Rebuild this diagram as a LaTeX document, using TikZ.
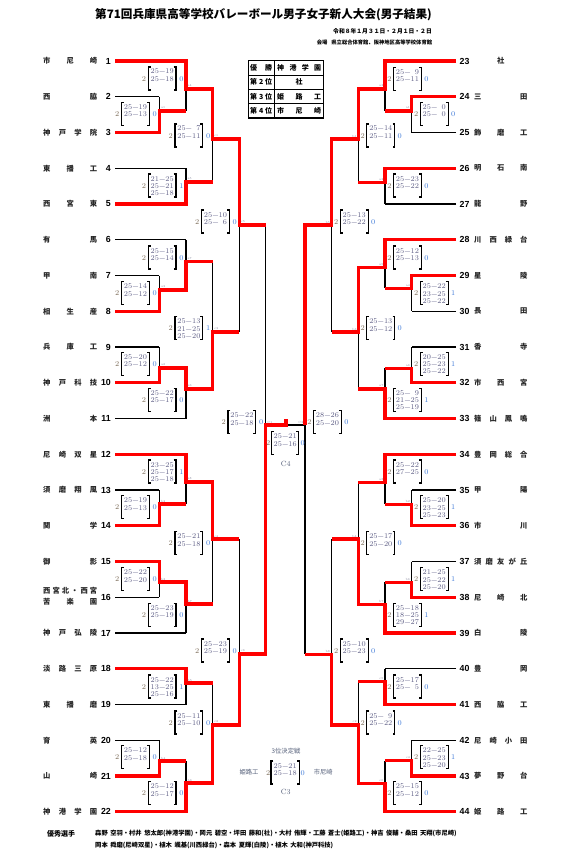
\documentclass[tikz,border=0pt]{standalone}
\usepackage{fontspec}
\newfontfamily\jp{Noto Sans CJK JP}
\newfontfamily\arl{Liberation Sans}
\definecolor{scc}{HTML}{5C5C84}
\definecolor{wnc}{HTML}{7A6A55}
\definecolor{lsc}{HTML}{3C78D8}
\definecolor{txg}{HTML}{55607A}
\definecolor{tiny}{HTML}{8A8AA0}
\newcommand\scoreL[5]{%
  \draw[brk] ({#1-35.4},#2) -- ({#1-37.7},#2) -- ({#1-37.7},{#2+23}) -- ({#1-35.4},{#2+23});
  \draw[brk] ({#1-12.3},#2) -- ({#1-10},#2) -- ({#1-10},{#2+23}) -- ({#1-12.3},{#2+23});
  \node[wcnt] (#5w) at ({#1-42},{#2+11.8}) {2};
  \node[lcnt] (#5l) at ({#1-4.5},{#2+11.8}) {#4};
  \foreach \r [count=\k from 0] in {#3} {\node[sc] (#5r\k) at ({#1-23.8},{#2+7+\k*7.3}) {\r};}
}
\newcommand\scoreR[5]{%
  \draw[brk] ({#1+10.8},#2) -- ({#1+8.5},#2) -- ({#1+8.5},{#2+23}) -- ({#1+10.8},{#2+23});
  \draw[brk] ({#1+34.2},#2) -- ({#1+36.5},#2) -- ({#1+36.5},{#2+23}) -- ({#1+34.2},{#2+23});
  \node[wcnt] (#5w) at ({#1+4.5},{#2+11.8}) {2};
  \node[lcnt] (#5l) at ({#1+41.5},{#2+11.8}) {#4};
  \foreach \r [count=\k from 0] in {#3} {\node[sc] (#5r\k) at ({#1+22.5},{#2+7+\k*7.3}) {\r};}
}
\begin{document}
\begin{tikzpicture}[x=1pt,y=-1pt,
  blk/.style={line width=1.1pt,black},
  win/.style={line width=3.3pt,red},
  brk/.style={line width=1.1pt,black},
  sc/.style={anchor=base,inner sep=0,font=\fontsize{7.3}{7.3}\selectfont,text=scc},
  wcnt/.style={inner sep=0,font=\fontsize{7.3}{7.3}\selectfont,text=wnc},
  lcnt/.style={inner sep=0,font=\fontsize{7.3}{7.3}\selectfont,text=lsc},
  tname/.style={inner sep=0,font=\jp\bfseries\fontsize{7.3}{8}\selectfont,text=black!85},
  tnum/.style={inner sep=0,font=\arl\bfseries\fontsize{8.8}{9}\selectfont},
  tab/.style={inner sep=0,anchor=west,font=\jp\bfseries\fontsize{7}{7}\selectfont},
  jpl/.style={inner sep=0,font=\jp\fontsize{6.3}{7}\selectfont,text=txg},
  clab/.style={inner sep=0,font=\fontsize{7.5}{8}\selectfont,text=txg},
  mlabL/.style={inner sep=0,anchor=west,font=\fontsize{3}{3}\selectfont,text=tiny},
  mlabR/.style={inner sep=0,anchor=east,font=\fontsize{3}{3}\selectfont,text=tiny}]
\useasboundingbox (0,0) rectangle (566,856);
\fill[white] (0,0) rectangle (566,856);

% header
\node[font=\jp\bfseries\fontsize{11.6}{12}\selectfont] (title) at (263.5,15) {第71回兵庫県高等学校バレーボール男子女子新人大会(男子結果)};
\node[anchor=east,inner sep=0,font=\jp\bfseries\fontsize{5.8}{6}\selectfont] (date) at (432,31.7) {令和８年１月３１日・２月１日・２日};
\node[anchor=east,inner sep=0,font=\jp\bfseries\fontsize{5.3}{6}\selectfont] (venue) at (432.3,42.3) {会場\hspace{4pt}県立総合体育館、阪神地区高等学校体育館};

% result table
\draw[line width=1.6pt] (248.3,60.7) rectangle (323.3,118.3);
\draw[line width=0.8pt] (274.5,60.7) -- (274.5,118.3);
\foreach \yy in {75.1,89.5,103.9} \draw[line width=0.8pt] (248.3,\yy) -- (323.3,\yy);
\node[tab] (ta1) at (250,67.9) {\hbox to 22pt{優\hfil 勝}};
\node[tab] (ta2) at (250,82.3) {\hbox to 22pt{第\hfil 2\hfil 位}};
\node[tab] (ta3) at (250,96.7) {\hbox to 22pt{第\hfil 3\hfil 位}};
\node[tab] (ta4) at (250,111.1) {\hbox to 22pt{第\hfil 4\hfil 位}};
\node[tab] (tb1) at (277,67.9) {\hbox to 44pt{神\hfil 港\hfil 学\hfil 園}};
\node[tab] (tb2) at (277,82.3) {\hbox to 44pt{\hfil 社\hfil}};
\node[tab] (tb3) at (277,96.7) {\hbox to 44pt{姫\hfil 路\hfil 工}};
\node[tab] (tb4) at (277,111.1) {\hbox to 44pt{市\hfil 尼\hfil 崎}};

% team names and numbers
\foreach \n/\nm in {1/{市\hfil 尼\hfil 崎},2/{西\hfil 脇},3/{神\hfil 戸\hfil 学\hfil 院},4/{東\hfil 播\hfil 工},5/{西\hfil 宮\hfil 東},6/{有\hfil 馬},7/{甲\hfil 南},8/{相\hfil 生\hfil 産},9/{兵\hfil 庫\hfil 工},10/{神\hfil 戸\hfil 科\hfil 技},11/{洲\hfil 本},12/{尼\hfil 崎\hfil 双\hfil 星},13/{須\hfil 磨\hfil 翔\hfil 風},14/{関\hfil 学},15/{御\hfil 影},17/{神\hfil 戸\hfil 弘\hfil 陵},18/{淡\hfil 路\hfil 三\hfil 原},19/{東\hfil 播\hfil 磨},20/{育\hfil 英},21/{山\hfil 崎},22/{神\hfil 港\hfil 学\hfil 園}} {
  \pgfmathsetmacro\yy{61+(\n-1)*35.75}
  \node[tname,anchor=west] (tn\n) at (43,\yy) {\hbox to 54pt{\nm}};
}
\node[tname,anchor=west] (tn16a) at (43,591) {\hbox to 54pt{西\hfil 宮\hfil 北\hfil ・\hfil 西\hfil 宮}};
\node[tname,anchor=west] (tn16b) at (43,602) {\hbox to 54pt{苦\hfil 楽\hfil 園}};
\foreach \n/\nm in {23/{\hfil 社\hfil},24/{三\hfil 田},25/{飾\hfil 磨\hfil 工},26/{明\hfil 石\hfil 南},27/{龍\hfil 野},28/{川\hfil 西\hfil 緑\hfil 台},29/{星\hfil 陵},30/{長\hfil 田},31/{香\hfil 寺},32/{市\hfil 西\hfil 宮},33/{篠\hfil 山\hfil 鳳\hfil 鳴},34/{豊\hfil 岡\hfil 総\hfil 合},35/{甲\hfil 陽},36/{市\hfil 川},37/{須\hfil 磨\hfil 友\hfil が\hfil 丘},38/{尼\hfil 崎\hfil 北},39/{白\hfil 陵},40/{豊\hfil 岡},41/{西\hfil 脇\hfil 工},42/{尼\hfil 崎\hfil 小\hfil 田},43/{夢\hfil 野\hfil 台},44/{姫\hfil 路\hfil 工}} {
  \pgfmathsetmacro\yy{61+(\n-23)*35.75}
  \node[tname,anchor=west] (tn\n) at (474,\yy) {\hbox to 53.3pt{\nm}};
}
\foreach \n in {1,...,22} {
  \pgfmathsetmacro\yy{61+(\n-1)*35.75}
  \node[tnum,anchor=east] (tk\n) at (111,\yy) {\n};
  \coordinate (L\n) at (115,\yy);
}
\foreach \n in {23,...,44} {
  \pgfmathsetmacro\yy{61+(\n-23)*35.75}
  \node[tnum,anchor=west] (tk\n) at (459.5,\yy) {\n};
  \coordinate (R\n) at (456,\yy);
}

% ---------- black lines ----------
\draw[blk] (159.3,96.75)--(159.3,132.5) (159.3,275.5)--(159.3,311.25) (159.3,347)--(159.3,382.75)
  (159.3,490)--(159.3,525.75) (159.3,561.5)--(159.3,597.25) (159.3,740.25)--(159.3,776);
\draw[blk] (186,61)--(186,111) (186,168.25)--(186,204) (186,239.75)--(186,290) (186,368)--(186,418.5)
  (186,454.25)--(186,504) (186,582)--(186,633) (186,668.75)--(186,704.5) (186,761)--(186,811.75);
\draw[blk] (212.7,89)--(212.7,182) (212.7,261.7)--(212.7,389) (212.7,482)--(212.7,604) (212.7,683)--(212.7,783);
\draw[blk] (239.3,139)--(239.3,332) (239.3,539)--(239.3,725);
\draw[blk] (265.7,225)--(265.7,654);
\draw[blk] (265.7,425)--(305,425);
\draw[blk] (411.7,96.75)--(411.7,132.5) (411.7,275.5)--(411.7,311.25) (411.7,347)--(411.7,382.75)
  (411.7,490)--(411.7,525.75) (411.7,561.5)--(411.7,597.25) (411.7,740.25)--(411.7,776);
\draw[blk] (385,61)--(385,111) (385,168.25)--(385,204) (385,239.75)--(385,288.3) (385,368.3)--(385,418.5)
  (385,454.25)--(385,504.3) (385,582.3)--(385,633) (385,668.75)--(385,704.5) (385,760.7)--(385,811.75);
\draw[blk] (358.3,89)--(358.3,182.3) (358.3,267.3)--(358.3,389) (358.3,482.3)--(358.3,604.3) (358.3,681.7)--(358.3,783.3);
\draw[blk] (331.7,139)--(331.7,332) (331.7,539)--(331.7,725);
\draw[blk] (305,225)--(305,654.3);
% losers' lines
\draw[blk] (L2)--(159.3,96.75) (L4)--(186,168.25) (L6)--(186,239.75) (L7)--(159.3,275.5) (L9)--(159.3,347)
  (L11)--(186,418.5) (L13)--(159.3,490) (L16)--(159.3,597.25) (L17)--(186,633) (L19)--(186,704.5) (L20)--(159.3,740.25);
\draw[blk] (R25)--(411.7,132.5) (R27)--(385,204) (R30)--(411.7,311.25) (R31)--(411.7,347) (R35)--(411.7,490)
  (R37)--(411.7,561.5) (R40)--(385,668.75) (R42)--(411.7,740.25);

% ---------- red winner paths ----------
\draw[win] (L1)--(186,61)--(186,89)--(212.7,89)--(212.7,139)--(239.3,139)--(239.3,225)--(265.7,225);
\draw[win] (L3)--(159.3,132.5)--(159.3,111)--(186,111);
\draw[win] (L5)--(186,204)--(186,182)--(212.7,182);
\draw[win] (L8)--(159.3,311.25)--(159.3,290)--(186,290)--(186,261.7)--(212.7,261.7);
\draw[win] (L10)--(159.3,382.75)--(159.3,368)--(186,368)--(186,389)--(212.7,389)--(212.7,332)--(239.3,332);
\draw[win] (L12)--(186,454.25)--(186,482)--(212.7,482)--(212.7,539)--(239.3,539);
\draw[win] (L14)--(159.3,525.75)--(159.3,504)--(186,504);
\draw[win] (L15)--(159.3,561.5)--(159.3,582)--(186,582)--(186,604)--(212.7,604);
\draw[win] (L18)--(186,668.75)--(186,683)--(212.7,683);
\draw[win] (L21)--(159.3,776)--(159.3,761)--(186,761);
\draw[win] (L22)--(186,811.75)--(186,783)--(212.7,783)--(212.7,725)--(239.3,725)--(239.3,654)--(265.7,654)--(265.7,425)--(286,425)--(286,419);
\draw[win] (R23)--(385,61)--(385,89)--(358.3,89)--(358.3,139)--(331.7,139)--(331.7,225)--(305,225)--(305,425);
\draw[win] (R24)--(411.7,96.75)--(411.7,111)--(385,111);
\draw[win] (R26)--(385,168.25)--(385,182.3)--(358.3,182.3);
\draw[win] (R28)--(385,239.75)--(385,267.3)--(358.3,267.3)--(358.3,332)--(331.7,332);
\draw[win] (R29)--(411.7,275.5)--(411.7,288.3)--(385,288.3);
\draw[win] (R32)--(411.7,382.75)--(411.7,368.3)--(385,368.3);
\draw[win] (R33)--(385,418.5)--(385,389)--(358.3,389);
\draw[win] (R34)--(385,454.25)--(385,482.3)--(358.3,482.3);
\draw[win] (R36)--(411.7,525.75)--(411.7,504.3)--(385,504.3);
\draw[win] (R38)--(411.7,597.25)--(411.7,582.3)--(385,582.3);
\draw[win] (R39)--(385,633)--(385,604.3)--(358.3,604.3)--(358.3,539)--(331.7,539);
\draw[win] (R41)--(385,704.5)--(385,681.7)--(358.3,681.7);
\draw[win] (R43)--(411.7,776)--(411.7,760.7)--(385,760.7);
\draw[win] (R44)--(385,811.75)--(385,783.3)--(358.3,783.3)--(358.3,725)--(331.7,725)--(331.7,654.3)--(305,654.3);

% ---------- match codes (tiny) ----------
\foreach \x/\y/\t [count=\c] in {159.3/111/a1,186/89/a4,212.7/139/c1,186/182/a5,239.3/225/c5,186/261.7/a7,159.3/290/a3,212.7/332/c3,159.3/368/a2,186/389/a6,265.7/425/C1,186/482/a8,159.3/504/b2,212.7/539/c4,159.3/582/b3,186/604/b7,239.3/654/c6,186/683/b5,212.7/725/c2,159.3/761/b4,186/783/b6}
  \node[mlabL] (mcl\c) at ({\x+1.5},{\y-3}) {\t};
\foreach \x/\y/\t [count=\c] in {385/89/a3,411.7/111/a1,358.3/139/b1,385/182.3/a2,331.7/225/b5,385/267.3/a5,411.7/288.3/a4,358.3/332/b3,411.7/368.3/a6,385/389/a7,305/425/C2,385/482.3/a8,411.7/504.3/b2,358.3/539/b4,411.7/582.3/b6,385/604.3/b7,331.7/654.3/b8,385/681.7/c5,358.3/725/c2,411.7/760.7/c4,385/783.3/c6}
  \node[mlabR] (mcr\c) at ({\x-1.5},{\y-3}) {\t};

% ---------- score boxes, left ----------
\scoreL{186}{67}{25−19,25−18}{0}{sA}
\scoreL{159.3}{102.7}{25−19,25−13}{0}{sB}
\scoreL{212.7}{124}{25−\phantom{0}7,25−11}{0}{sC}
\scoreL{186}{174}{21−25,25−21,25−18}{1}{sD}
\scoreL{239.3}{210}{25−10,25−\phantom{0}6}{0}{sE}
\scoreL{186}{246}{25−15,25−14}{0}{sF}
\scoreL{159.3}{281.7}{25−14,25−12}{0}{sG}
\scoreL{212.7}{316.7}{25−13,21−25,25−20}{1}{sH}
\scoreL{159.3}{352.3}{25−20,25−12}{0}{sI}
\scoreL{186}{388.3}{25−22,25−17}{0}{sJ}
\scoreL{265.7}{410.7}{25−22,25−18}{0}{sK}
\scoreL{186}{460}{23−25,25−17,25−18}{1}{sL}
\scoreL{159.3}{495.7}{25−19,25−13}{0}{sM}
\scoreL{212.7}{531.7}{25−21,25−18}{0}{sN}
\scoreL{159.3}{567.7}{25−22,25−20}{0}{sO}
\scoreL{186}{603.3}{25−23,25−19}{0}{sP}
\scoreL{239.3}{639}{25−23,25−19}{0}{sQ}
\scoreL{186}{675}{25−22,13−25,25−16}{1}{sR}
\scoreL{212.7}{711}{25−11,25−10}{0}{sS}
\scoreL{159.3}{745.7}{25−12,25−18}{0}{sT}
\scoreL{186}{781.7}{25−12,25−17}{0}{sU}
% ---------- score boxes, right ----------
\scoreR{385}{67.3}{25−\phantom{0}9,25−11}{0}{rA}
\scoreR{411.7}{102.7}{25−\phantom{0}0,25−\phantom{0}0}{0}{rB}
\scoreR{358.3}{124}{25−14,25−11}{0}{rC}
\scoreR{385}{174}{25−23,25−22}{0}{rD}
\scoreR{331.7}{210}{25−13,25−22}{0}{rE}
\scoreR{385}{246}{25−12,25−13}{0}{rF}
\scoreR{411.7}{281.7}{25−22,23−25,25−22}{1}{rG}
\scoreR{358.3}{316.7}{25−13,25−12}{0}{rH}
\scoreR{411.7}{352.3}{20−25,25−23,25−22}{1}{rI}
\scoreR{385}{388.3}{25−\phantom{0}9,21−25,25−19}{1}{rJ}
\scoreR{305}{410.7}{28−26,25−20}{0}{rK}
\scoreR{385}{460}{25−22,27−25}{0}{rL}
\scoreR{411.7}{495.7}{25−20,23−25,25−23}{1}{rM}
\scoreR{358.3}{531.7}{25−17,25−20}{0}{rN}
\scoreR{411.7}{567.7}{21−25,25−22,25−20}{1}{rO}
\scoreR{385}{603.3}{25−18,18−25,29−27}{1}{rP}
\scoreR{331.7}{639}{25−10,25−23}{0}{rQ}
\scoreR{385}{675}{25−17,25−\phantom{0}5}{0}{rR}
\scoreR{358.3}{711}{25−\phantom{0}9,25−22}{0}{rS}
\scoreR{411.7}{745.7}{22−25,25−23,25−20}{1}{rT}
\scoreR{385}{781.7}{25−15,25−12}{0}{rU}

% ---------- final ----------
\draw[brk] (274,431.7) -- (271.7,431.7) -- (271.7,454.7) -- (274,454.7);
\draw[brk] (296.4,431.7) -- (298.7,431.7) -- (298.7,454.7) -- (296.4,454.7);
\node[wcnt] (fw) at (268.3,443.5) {2};
\node[lcnt] (fl) at (302.7,443.5) {0};
\node[sc] (fr0) at (285.2,438.7) {25−21};
\node[sc] (fr1) at (285.2,446) {25−16};
\node[clab] (c4) at (285.7,464) {C4};

% ---------- third place ----------
\node[jpl] (t3) at (286,750.7) {3位決定戦};
\draw[brk] (273.3,761) -- (271,761) -- (271,784) -- (273.3,784);
\draw[brk] (297,761) -- (299.3,761) -- (299.3,784) -- (297,784);
\node[wcnt] (tw) at (268.3,772.8) {2};
\node[lcnt] (tl) at (302.7,772.8) {0};
\node[sc] (tr0) at (285.2,768) {25−21};
\node[sc] (tr1) at (285.2,775.3) {25−18};
\node[jpl] (t3a) at (249,772.3) {姫路工};
\node[jpl] (t3b) at (323.3,772.3) {市尼崎};
\node[clab] (c3) at (285.7,792.3) {C3};

% ---------- bottom ----------
\node[anchor=west,inner sep=0,font=\jp\bfseries\fontsize{7}{7}\selectfont] (mvp) at (47,833.5) {優秀選手};
\node[anchor=west,inner sep=0,font=\jp\bfseries\fontsize{6.3}{7}\selectfont] (mvp1) at (95,833.5) {森野\hspace{2.5pt}空羽・村井\hspace{2.5pt}悠太郎(神港学園)・岡元\hspace{2.5pt}碧空・坪田\hspace{2.5pt}藤和(社)・大村\hspace{2.5pt}侑輝・工藤\hspace{2.5pt}蒼士(姫路工)・神吉\hspace{2.5pt}俊輔・桑田\hspace{2.5pt}天翔(市尼崎)};
\node[anchor=west,inner sep=0,font=\jp\bfseries\fontsize{6.3}{7}\selectfont] (mvp2) at (95,845) {岡本\hspace{2.5pt}舜磨(尼崎双星)・植木\hspace{2.5pt}颯基(川西緑台)・森本\hspace{2.5pt}夏輝(白陵)・植木\hspace{2.5pt}大和(神戸科技)};
\end{tikzpicture}
\end{document}
